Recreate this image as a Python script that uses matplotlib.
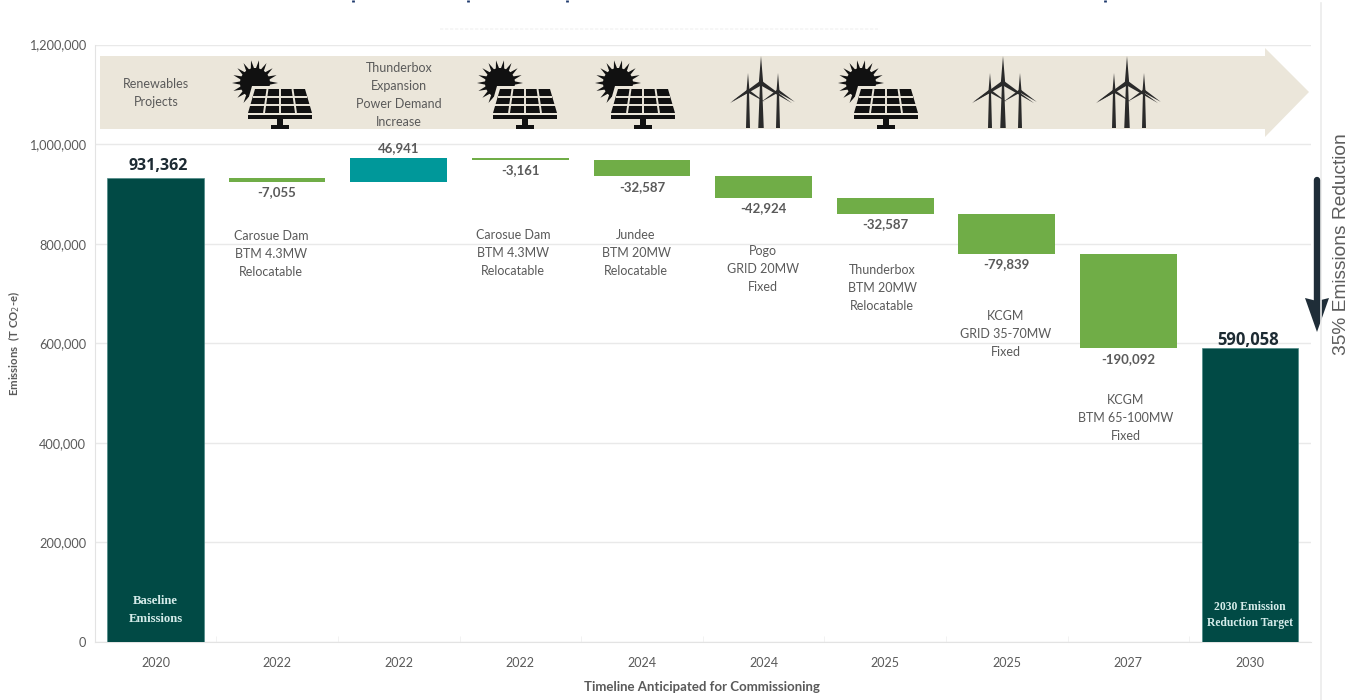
import numpy as np
import matplotlib
matplotlib.use("Agg")
import matplotlib.pyplot as plt
from matplotlib.patches import Polygon, Circle, Rectangle

plt.rcParams['font.family'] = ['Lato', 'DejaVu Sans']

# data
years = ["2020", "2022", "2022", "2022", "2024", "2024", "2025", "2025", "2027", "2030"]
baseline = 931362
target = 590058
changes = [-7055, 46941, -3161, -32587, -42924, -32587, -79839, -190092]
change_labels = ["-7,055", "46,941", "-3,161", "-32,587", "-42,924", "-32,587", "-79,839", "-190,092"]
y_ticks = [0, 200000, 400000, 600000, 800000, 1000000, 1200000]

notes = [
    ("Carosue Dam\nBTM 4.3MW\nRelocatable", 271, 254),
    ("Carosue Dam\nBTM 4.3MW\nRelocatable", 513, 253),
    ("Jundee\nBTM 20MW\nRelocatable", 636, 253),
    ("Pogo\nGRID 20MW\nFixed", 763, 269),
    ("Thunderbox\nBTM 20MW\nRelocatable", 882, 288),
    ("KCGM\nGRID 35-70MW\nFixed", 1006, 334),
    ("KCGM\nBTM 65-100MW\nFixed", 1126, 418),
]
solar_icons = [280, 525, 643, 886]
wind_icons = [761, 1003, 1127]

DARK = "#014a45"
GREEN = "#70ad47"
TEAL = "#00989a"
TAN = "#ebe6da"
GRID = "#e9e9e9"
TXT = "#5a5a5a"

fig = plt.figure(figsize=(13.5, 7), dpi=100)
ax = fig.add_axes([94.7 / 1350, 58 / 700, (1310.8 - 94.7) / 1350, 597.5 / 700])

x = np.arange(len(years))
width = 0.795
ax.bar(x[0], baseline, width=width, color=DARK, edgecolor="#4d8a86", linewidth=0.5, zorder=3)
ax.bar(x[-1], target, width=width, color=DARK, edgecolor="#4d8a86", linewidth=0.5, zorder=3)

level = baseline
for i, c in enumerate(changes):
    new_level = level + c
    color = TEAL if c > 0 else GREEN
    ax.bar(x[i + 1], abs(c), bottom=min(level, new_level), width=width, color=color, zorder=3)
    if c > 0:
        ax.annotate(change_labels[i], (x[i + 1], max(level, new_level)), xytext=(0, 7.5), textcoords="offset points",
                    ha="center", va="center", fontsize=9.5, fontweight="bold", color=TXT)
    else:
        ax.annotate(change_labels[i], (x[i + 1], min(level, new_level)), xytext=(0, -7.5), textcoords="offset points",
                    ha="center", va="center", fontsize=9.5, fontweight="bold", color=TXT)
    level = new_level

ax.annotate("931,362", (x[0], baseline), xytext=(2, 9), textcoords="offset points", ha="center", va="center",
            fontsize=11.5, fontweight="bold", color="#1d2b33", family="Open Sans")
ax.annotate("590,058", (x[-1], target), xytext=(-1, 6), textcoords="offset points", ha="center", va="center",
            fontsize=12, fontweight="bold", color="#1d2b33", family="Open Sans")

ax.text(x[0], 35000, "Baseline\nEmissions", ha="center", va="bottom", color="#d5ecea", fontsize=9.2,
        fontweight="bold", linespacing=1.6, zorder=4, family="Liberation Serif")
ax.text(x[-1], 26000, "2030 Emission\nReduction Target", ha="center", va="bottom", color="#d5ecea", fontsize=8.4,
        fontweight="bold", linespacing=1.5, zorder=4, family="Liberation Serif")

ax.set_xlim(-0.5, len(years) - 0.5)
ax.set_ylim(0, 1200000)
ax.set_xticks(x)
ax.set_xticklabels(years)
ax.set_xticks(x[:-1] + 0.5, minor=True)
ax.set_yticks(y_ticks)
ax.set_yticklabels([f"{t:,}" for t in y_ticks])
ax.tick_params(axis="x", which="major", length=0, pad=11, labelsize=9, labelcolor=TXT)
ax.tick_params(axis="x", which="minor", length=4, direction="in", color="#f0f0f0")
ax.tick_params(axis="y", length=0, pad=6, labelsize=9.2, labelcolor=TXT)
ax.grid(axis="y", color=GRID, linewidth=1, zorder=0)
ax.set_axisbelow(True)
for s in ["top", "right"]:
    ax.spines[s].set_visible(False)
for s in ["left", "bottom"]:
    ax.spines[s].set_color("#e3e3e3")

# everything decorative goes on a pixel overlay
ov = fig.add_axes([0, 0, 1, 1], facecolor="none")
ov.set_xlim(0, 1350)
ov.set_ylim(700, 0)
ov.axis("off")

ov.add_patch(Polygon([(100, 56), (1265, 56), (1265, 48), (1309, 92), (1265, 137), (1265, 129), (100, 129)],
                     closed=True, fc=TAN, ec="none"))


def draw_solar(cx):
    # sun rays first, then disc, then the panel over it
    sx, sy = cx - 25, 83
    for a in np.arange(0, 270, 20):
        t = np.radians(a)
        tip = (sx + 23 * np.cos(t), sy - 23 * np.sin(t))
        p1 = (sx + 14 * np.cos(t - 0.13), sy - 14 * np.sin(t - 0.13))
        p2 = (sx + 14 * np.cos(t + 0.13), sy - 14 * np.sin(t + 0.13))
        ov.add_patch(Polygon([p1, tip, p2], closed=True, fc="#111111", ec="none"))
    ov.add_patch(Circle((sx, sy), 15, fc="#111111", ec="none"))
    # margin round the panel
    ov.add_patch(Polygon([(cx - 28, 86), (cx + 29, 86), (cx + 36, 114), (cx - 36, 114)], closed=True, fc=TAN, ec="none"))
    ov.add_patch(Polygon([(cx - 25, 89), (cx + 25, 89), (cx + 32, 113), (cx - 32, 113)], closed=True, fc="#111111", ec="none"))
    for f in [0.33, 0.66]:
        yy = 89 + 24 * f
        xl = cx - 25 - 7 * f
        xr = cx + 25 + 7 * f
        ov.plot([xl, xr], [yy, yy], color=TAN, lw=1.4, solid_capstyle="butt")
    for f in [0.25, 0.5, 0.75]:
        ov.plot([cx - 25 + 50 * f, cx - 32 + 64 * f], [89, 113], color=TAN, lw=1.4, solid_capstyle="butt")
    ov.add_patch(Rectangle((cx - 32, 115), 64, 3.5, fc="#111111", ec="none"))
    ov.add_patch(Rectangle((cx - 3, 118), 6, 8, fc="#111111", ec="none"))
    ov.add_patch(Rectangle((cx - 9, 125), 18, 4, fc="#111111", ec="none"))


def draw_turbine(hx, hy, up, low, tower_w, lw):
    ov.add_patch(Polygon([(hx - tower_w / 2, 128), (hx + tower_w / 2, 128), (hx + 1, hy), (hx - 1, hy)],
                         closed=True, fc="#2a2a2a", ec="none"))
    for a, blade in [(90, up), (213, low), (327, low)]:
        t = np.radians(a)
        tip = (hx + blade * np.cos(t), hy - blade * np.sin(t))
        n = (-np.sin(t) * lw, -np.cos(t) * lw)
        ov.add_patch(Polygon([(hx + n[0], hy + n[1]), tip, (hx - n[0], hy - n[1])], closed=True, fc="#2a2a2a", ec="none"))


def draw_wind(cx):
    draw_turbine(cx - 13, 91, 18, 20, 4, 1.5)
    draw_turbine(cx + 17, 91, 18, 20, 4, 1.5)
    draw_turbine(cx, 83, 27, 37, 5.5, 2.2)


for c in solar_icons:
    draw_solar(c)
for c in wind_icons:
    draw_wind(c)

ov.text(156, 93, "Renewables\nProjects", ha="center", va="center", fontsize=9, color=TXT, linespacing=1.6)
ov.text(399, 95, "Thunderbox\nExpansion\nPower Demand\nIncrease", ha="center", va="center", fontsize=9, color=TXT,
        linespacing=1.6)
for txt, nx, ny in notes:
    ov.text(nx, ny, txt, ha="center", va="center", fontsize=9, color=TXT, linespacing=1.62)

# y and x titles
ov.text(14, 343, r"Emissions  (T CO$_2$-e)", rotation=90, ha="center", va="center", fontsize=8.2,
        fontweight="bold", color=TXT)
ov.text(702, 687, "Timeline Anticipated for Commissioning", ha="center", va="center", fontsize=9.5,
        fontweight="bold", color=TXT)

# right hand side: reduction arrow
ov.plot([1320.5, 1320.5], [3, 700], color="#ebebeb", lw=1.2)
ov.plot([1317, 1317], [180, 300], color="#1f2d38", lw=4.6, solid_capstyle="round")
ov.add_patch(Polygon([(1305, 298), (1317, 301), (1329, 298), (1317, 332)], closed=True, fc="#1f2d38", ec="none"))
ov.text(1341, 244, "35% Emissions Reduction", rotation=90, ha="center", va="center", fontsize=13.8,
        color="#5c5c5c", family="Liberation Sans")

# cut off bits of the title and the faint subtitle along the top edge
for tx in [353, 468, 567, 1105]:
    ov.plot([tx, tx], [0, 2], color="#1f3a6e", lw=2, solid_capstyle="butt")
ov.plot([440, 878], [29, 29], color="#f5f5f5", lw=1.2, linestyle=(0, (2, 1)))

fig.savefig("out.png", dpi=100)
